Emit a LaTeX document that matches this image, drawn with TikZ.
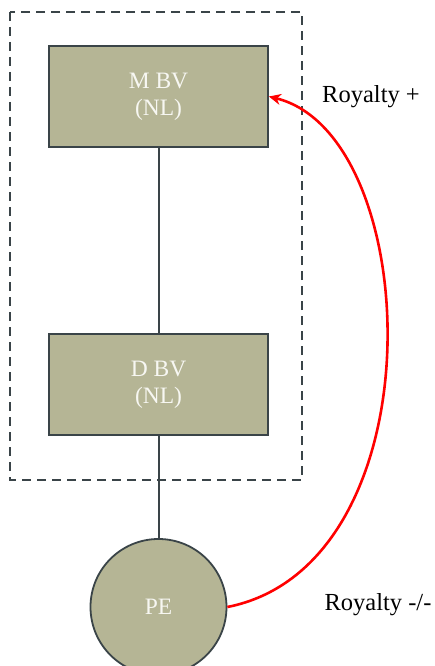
\documentclass[tikz,border=0pt]{standalone}
\usepackage{fontspec}
\setmainfont{Liberation Serif}
\usetikzlibrary{arrows.meta}
\definecolor{boxfill}{HTML}{B5B595}
\definecolor{boxline}{HTML}{3A4448}
\definecolor{boxtext}{HTML}{F7F7F2}
\tikzset{
  entity/.style={draw=boxline, line width=1.8pt, fill=boxfill, text=boxtext, align=center,
    font=\fontsize{23.5}{27}\selectfont},
  rectbox/.style={entity, rectangle, minimum width=219pt, minimum height=101pt, inner sep=0pt},
  roundbox/.style={entity, circle, minimum size=136pt, inner sep=0pt},
  link/.style={draw=boxline, line width=2pt},
  royalty/.style={draw=red, line width=2.6pt, -{Stealth[length=12pt,width=11pt]}},
  lbl/.style={font=\fontsize{24.5}{28}\selectfont, text=black},
}
\begin{document}
\begin{tikzpicture}[x=1pt,y=-1pt]
\useasboundingbox (0,0) rectangle (435,666);
\draw[boxline, line width=1.6pt, dash pattern=on 9pt off 6pt] (10,12) rectangle (302,480);
\node[rectbox] (m) at (158.5,96.5) {M BV\\(NL)};
\node[rectbox] (d) at (158.5,384.5) {D BV\\(NL)};
\node[roundbox] (pe) at (158.5,607) {PE};
\draw[link] (m.south) -- (d.north);
\draw[link] (d.south) -- (pe.north);
\node[lbl] (r1) at (371,97) {Royalty +};
\node[lbl] (r2) at (378,605) {Royalty -/-};
\draw[royalty] (pe.east) .. controls (440,565) and (425,135) .. (m.east);
\end{tikzpicture}
\end{document}
